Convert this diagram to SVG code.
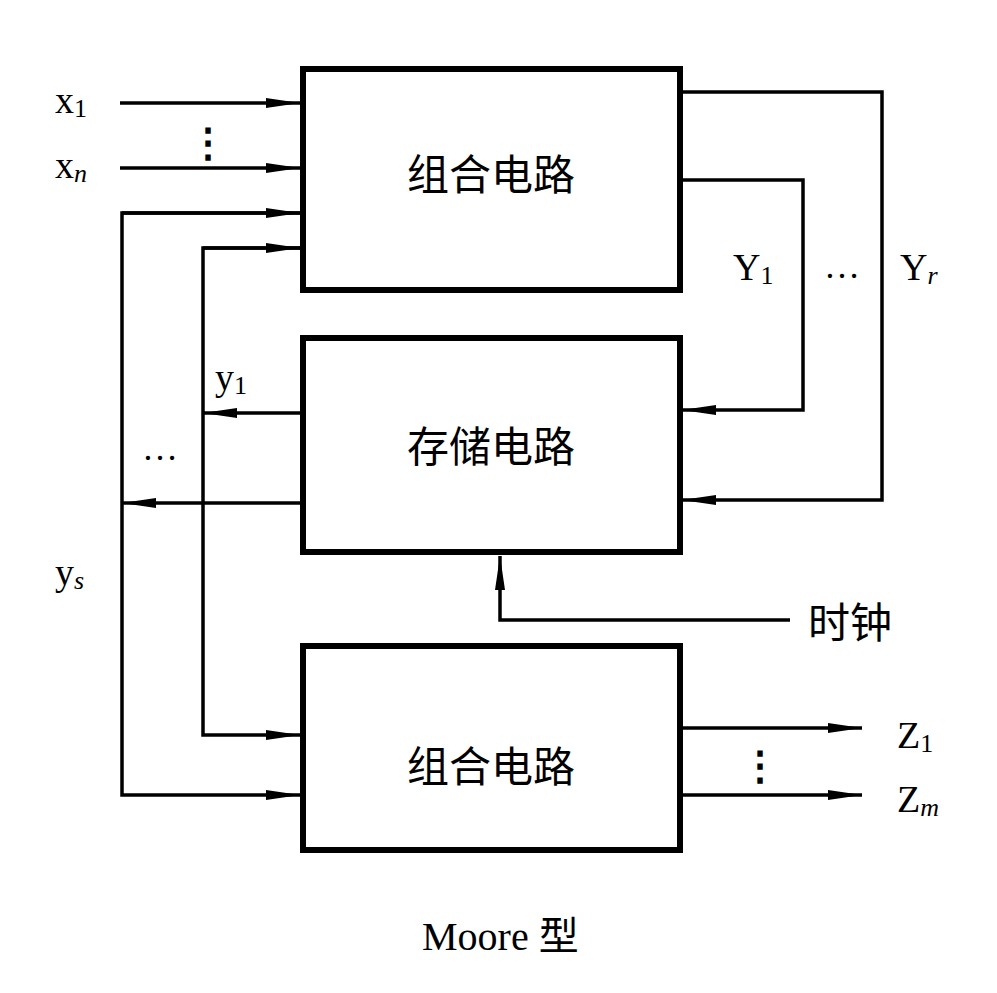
<svg xmlns="http://www.w3.org/2000/svg" width="997" height="993" viewBox="0 0 997 993">
<defs>
<marker id="a" markerWidth="34" markerHeight="12" refX="34" refY="6" orient="auto" markerUnits="userSpaceOnUse"><path d="M0,1 L34,6 L0,11 Z" fill="#000"/></marker>
</defs>
<style>
.b{fill:#fff;stroke:#000;stroke-width:6}
.l{fill:none;stroke:#000;stroke-width:3.5}
.t{font-family:"Liberation Serif","Noto Sans CJK SC",serif;fill:#000}
.c{font-family:"Noto Sans CJK SC",sans-serif;font-size:42px;fill:#000}
</style>
<rect width="997" height="993" fill="#fff"/>
<g id="connectors">
<path class="l" d="M120,103 H300" marker-end="url(#a)"/>
<path class="l" d="M120,168 H300" marker-end="url(#a)"/>
<path class="l" d="M300,213 H122 V795 H300" marker-end="url(#a)"/>
<path class="l" d="M122,213 H300" marker-end="url(#a)"/>
<path class="l" d="M300,248 H203 V735 H300" marker-end="url(#a)"/>
<path class="l" d="M203,248 H300" marker-end="url(#a)"/>
<path class="l" d="M300,413 H203" marker-end="url(#a)"/>
<path class="l" d="M300,503 H122" marker-end="url(#a)"/>
<path class="l" d="M682,92 H882 V500 H682" marker-end="url(#a)"/>
<path class="l" d="M682,180 H803 V410 H682" marker-end="url(#a)"/>
<path class="l" d="M790,620 H500 V556" marker-end="url(#a)"/>
<path class="l" d="M682,728 H862" marker-end="url(#a)"/>
<path class="l" d="M682,795 H862" marker-end="url(#a)"/>
</g>
<g id="box1"><rect class="b" x="303" y="69" width="377" height="221"/><text class="c" x="491" y="190" text-anchor="middle">组合电路</text></g>
<g id="box2"><rect class="b" x="303" y="338" width="377" height="214"/><text class="c" x="491" y="462" text-anchor="middle">存储电路</text></g>
<g id="box3"><rect class="b" x="303" y="646" width="377" height="204"/><text class="c" x="491" y="782" text-anchor="middle">组合电路</text></g>
<g id="labels">
<text class="t" x="55" y="113" font-size="38">x<tspan font-size="26" dy="4">1</tspan></text>
<text class="t" x="55" y="178" font-size="38">x<tspan font-size="26" font-style="italic" dy="4">n</tspan></text>
<text class="t" x="208" y="156" font-size="40" font-weight="bold" text-anchor="middle" font-family="DejaVu Sans">⋮</text>
<text class="t" x="215" y="390" font-size="38">y<tspan font-size="26" dy="4">1</tspan></text>
<text class="t" x="160" y="460" font-size="36" text-anchor="middle">…</text>
<text class="t" x="55" y="585" font-size="38">y<tspan font-size="26" font-style="italic" dy="4">s</tspan></text>
<text class="t" x="733" y="280" font-size="38">Y<tspan font-size="26" dy="4">1</tspan></text>
<text class="t" x="842" y="278" font-size="36" text-anchor="middle">…</text>
<text class="t" x="900" y="280" font-size="38">Y<tspan font-size="26" font-style="italic" dy="4">r</tspan></text>
<text class="c" x="808" y="638" font-size="38">时钟</text>
<text class="t" x="897" y="748" font-size="38">Z<tspan font-size="26" dy="4">1</tspan></text>
<text class="t" x="897" y="812" font-size="38">Z<tspan font-size="26" font-style="italic" dy="4">m</tspan></text>
<text class="t" x="760" y="779" font-size="40" font-weight="bold" text-anchor="middle" font-family="DejaVu Sans">⋮</text>
<text class="t" x="422" y="950" font-size="40">Moore <tspan font-family="Noto Sans CJK SC">型</tspan></text>
</g>
</svg>
